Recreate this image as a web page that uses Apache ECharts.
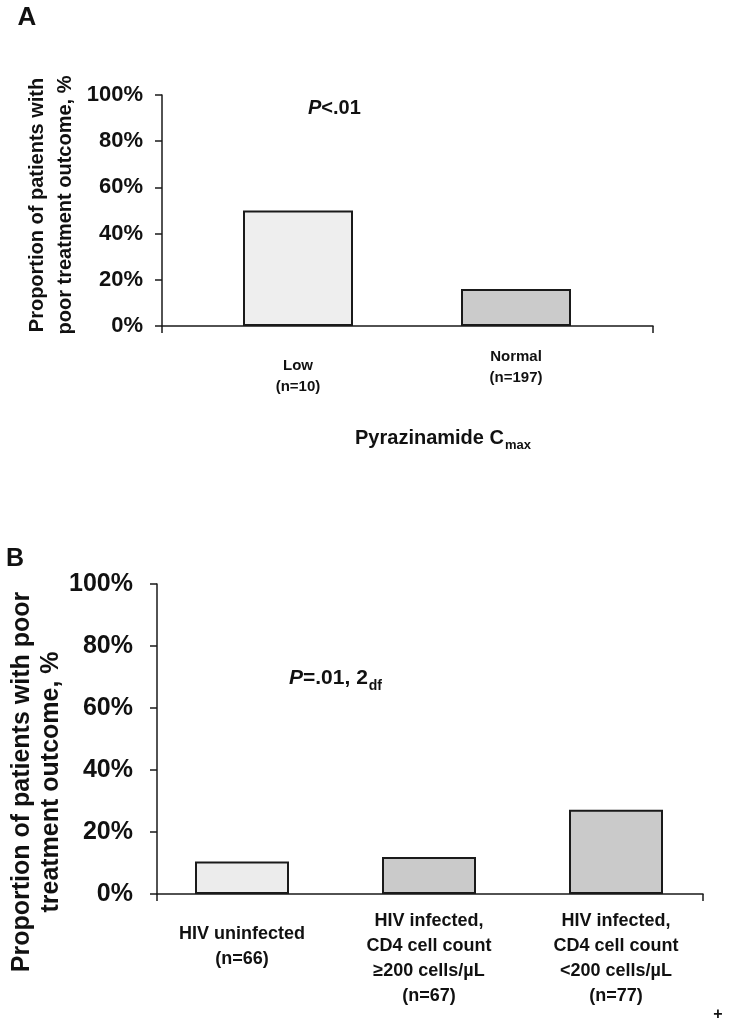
<!DOCTYPE html>
<html><head><meta charset="utf-8">
<script src="https://cdn.jsdelivr.net/npm/echarts@6/dist/echarts.min.js"></script>
<style>html,body{margin:0;padding:0;background:#fff}#c{width:732px;height:1026px}</style>
</head><body><div id="c"></div>
<script>
// ---- data ----
const catsA = ['Low\n(n=10)', 'Normal\n(n=197)'];
const valsA = [50, 16];
const catsB = ['HIV uninfected\n(n=66)', 'HIV infected,\nCD4 cell count\n≥200 cells/µL\n(n=67)', 'HIV infected,\nCD4 cell count\n<200 cells/µL\n(n=77)'];
const valsB = [10.5, 11.9, 27.2];
const yMin = 0, yMax = 100, yStep = 20;

// ---- styles ----
const colorsA = ['#eeeeee', '#cbcbcb'];
const colorsB = ['#ececec', '#cacaca', '#cacaca'];
const labelPadA = [9, 0];
const labelPadB = [13, 0, 0];
const FONT = '"Liberation Sans", Arial, Helvetica, sans-serif';
const INK = '#111';
const lineStyle = {color: '#1a1a1a', width: 1.5};

const chart = echarts.init(document.getElementById('c'), null, {renderer: 'canvas'});

function frameX(grid) {
  return {gridIndex: grid, type: 'value', min: 0, max: 1, interval: 1,
    axisLine: {show: true, onZero: false, lineStyle}, axisTick: {show: true, length: 7, lineStyle},
    axisLabel: {show: false}, splitLine: {show: false}};
}
function frameY(grid, fs, margin) {
  return {gridIndex: grid, type: 'value', min: yMin, max: yMax, interval: yStep,
    axisLine: {show: true, lineStyle}, axisTick: {show: true, length: 7, lineStyle},
    axisLabel: {formatter: '{value}%', fontSize: fs, fontWeight: 'bold', fontFamily: FONT, color: INK, margin},
    splitLine: {show: false}};
}
function hiddenY(grid) {
  return {gridIndex: grid, type: 'value', min: yMin, max: yMax, show: false, splitLine: {show: false}};
}
function catX(grid, cats, pads, fs, lh, margin) {
  return {gridIndex: grid, type: 'category',
    data: cats.map((c, i) => ({value: c, textStyle: {padding: [pads[i], 0, 0, 0]}})),
    axisLine: {show: false}, axisTick: {show: false}, splitLine: {show: false},
    axisLabel: {interval: 0, fontSize: fs, fontWeight: 'bold', fontFamily: FONT, color: INK, lineHeight: lh, margin, align: 'center'}};
}

const option = {
  backgroundColor: '#fff',
  animation: false,
  grid: [
    {left: 162, top: 95, width: 491, height: 231},
    {left: 189, top: 95, width: 436, height: 231},
    {left: 157, top: 584, width: 546, height: 310},
    {left: 148.5, top: 584, width: 561, height: 310}
  ],
  xAxis: [
    frameX(0),
    catX(1, catsA, labelPadA, 15, 21, 20),
    frameX(2),
    catX(3, catsB, labelPadB, 18, 25, 15)
  ],
  yAxis: [
    frameY(0, 22, 19),
    hiddenY(1),
    frameY(2, 25, 24),
    hiddenY(3)
  ],
  series: [
    {type: 'bar', xAxisIndex: 1, yAxisIndex: 1, barWidth: 110,
      data: valsA.map((v, i) => ({value: v, itemStyle: {color: colorsA[i]}})),
      itemStyle: {borderColor: '#1a1a1a', borderWidth: 2}},
    {type: 'bar', xAxisIndex: 3, yAxisIndex: 3, barWidth: 94,
      data: valsB.map((v, i) => ({value: v, itemStyle: {color: colorsB[i]}})),
      itemStyle: {borderColor: '#1a1a1a', borderWidth: 2}}
  ],
  graphic: [
    {type: 'text', x: 27, y: 18, style: {text: 'A', fontSize: 26, fontWeight: 'bold', fontFamily: FONT, fill: INK, align: 'center', verticalAlign: 'middle'}},
    {type: 'text', x: 15, y: 559, style: {text: 'B', fontSize: 25, fontWeight: 'bold', fontFamily: FONT, fill: INK, align: 'center', verticalAlign: 'middle'}},
    {type: 'text', x: 51, y: 205, rotation: Math.PI / 2,
      style: {text: 'Proportion of patients with\npoor treatment outcome, %', fontSize: 20, lineHeight: 28, fontWeight: 'bold', fontFamily: FONT, fill: INK, align: 'center', verticalAlign: 'middle'}},
    {type: 'text', x: 37, y: 782, rotation: Math.PI / 2,
      style: {text: 'Proportion of patients with poor\ntreatment outcome, %', fontSize: 25, lineHeight: 29, fontWeight: 'bold', fontFamily: FONT, fill: INK, align: 'center', verticalAlign: 'middle'}},
    {type: 'text', x: 308, y: 108,
      style: {text: '{i|P}{n|<.01}', align: 'left', verticalAlign: 'middle',
        rich: {i: {fontSize: 20, fontWeight: 'bold', fontStyle: 'italic', fontFamily: FONT, fill: INK},
               n: {fontSize: 20, fontWeight: 'bold', fontFamily: FONT, fill: INK}}}},
    {type: 'text', x: 289, y: 677,
      style: {text: '{i|P}{n|=.01, 2}{s|df}', align: 'left', verticalAlign: 'middle',
        rich: {i: {fontSize: 21, fontWeight: 'bold', fontStyle: 'italic', fontFamily: FONT, fill: INK, lineHeight: 24, verticalAlign: 'bottom'},
               n: {fontSize: 21, fontWeight: 'bold', fontFamily: FONT, fill: INK, lineHeight: 24, verticalAlign: 'bottom'},
               s: {fontSize: 14, fontWeight: 'bold', fontFamily: FONT, fill: INK, lineHeight: 18, verticalAlign: 'bottom', padding: [0, 0, -4, 1]}}}},
    {type: 'text', x: 443, y: 436,
      style: {text: '{n|Pyrazinamide C}{s|max}', align: 'center', verticalAlign: 'middle',
        rich: {n: {fontSize: 20, fontWeight: 'bold', fontFamily: FONT, fill: INK, lineHeight: 24, verticalAlign: 'bottom'},
               s: {fontSize: 13, fontWeight: 'bold', fontFamily: FONT, fill: INK, lineHeight: 16, verticalAlign: 'bottom', padding: [0, 0, -4, 1]}}}},
    {type: 'text', x: 718, y: 1015, style: {text: '+', fontSize: 16, fontWeight: 'bold', fontFamily: FONT, fill: INK, align: 'center', verticalAlign: 'middle'}}
  ]
};
chart.setOption(option);
</script>
</body></html>
